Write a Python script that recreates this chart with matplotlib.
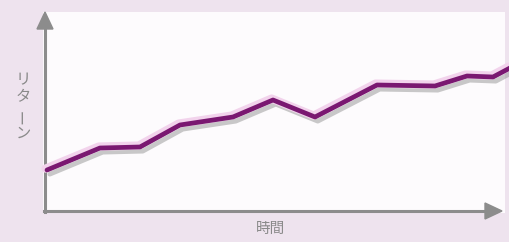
import matplotlib
matplotlib.use("Agg")
import matplotlib.pyplot as plt
import matplotlib.patheffects as pe

plt.rcParams['font.family'] = ['Noto Sans CJK JP', 'DejaVu Sans']

# data (time vs return, arbitrary units)
time = [2, 55, 95, 135, 188, 228, 270, 332, 390, 422, 448, 465]
returns = [41, 63, 64, 86, 94, 111, 94, 126, 125, 135, 134, 143]
x_label = "時間"
y_label = ["リ", "タ", "ー", "ン"]

W, H = 510, 242
fig = plt.figure(figsize=(W / 100, H / 100), dpi=100)
fig.patch.set_facecolor('#eee3ee')

# white panel
panel = plt.Rectangle((43 / W, 1 - 213 / H), (505 - 43) / W, (213 - 12) / H,
                      transform=fig.transFigure, facecolor='#fdfbfd', edgecolor='none', zorder=-5)
fig.add_artist(panel)

ax = fig.add_axes([45 / W, 1 - 211 / H, (510 - 45) / W, (211 - 12) / H])
ax.set_zorder(2)
ax.set_xlim(0, 465)
ax.set_ylim(0, 199)
ax.axis('off')
ax.patch.set_alpha(0)

ax.plot(time, returns, color='#7a1871', lw=3.4, solid_joinstyle='round', solid_capstyle='round',
        clip_on=False,
        path_effects=[pe.SimpleLineShadow(offset=(2, -3), shadow_color='#888888', alpha=0.45),
                      pe.Stroke(linewidth=6, foreground='#f2d3ec', offset=(-1, 1)),
                      pe.Normal()])

# axes arrows (figure pixel coordinates)
axc = '#8c8c8c'
def px(x, y):
    return (x / W, 1 - y / H)

fig.add_artist(matplotlib.lines.Line2D([45 / W, 45 / W], [1 - 212 / H, 1 - 24 / H],
                                       color=axc, lw=2.2, transform=fig.transFigure))
fig.add_artist(matplotlib.lines.Line2D([44 / W, 488 / W], [1 - 211 / H, 1 - 211 / H],
                                       color=axc, lw=2.2, transform=fig.transFigure))
fig.add_artist(matplotlib.patches.Polygon([px(45, 12), px(37, 29), px(53, 29)], closed=True,
                                          color=axc, transform=fig.transFigure))
fig.add_artist(matplotlib.patches.Polygon([px(502, 211), px(485, 203), px(485, 219)], closed=True,
                                          color=axc, transform=fig.transFigure))

txtc = '#8a8a8a'
fig.text(271 / W, 1 - 229 / H, x_label, ha='center', va='center', fontsize=10.5, color=txtc)
ys = [80, 97, 116, 133]
for ch, y in zip(y_label, ys):
    fig.text(23 / W, 1 - y / H, ch, ha='center', va='center', fontsize=11, color=txtc,
             rotation=90 if ch == "ー" else 0)

fig.savefig('out.png', dpi=100, facecolor=fig.get_facecolor())
